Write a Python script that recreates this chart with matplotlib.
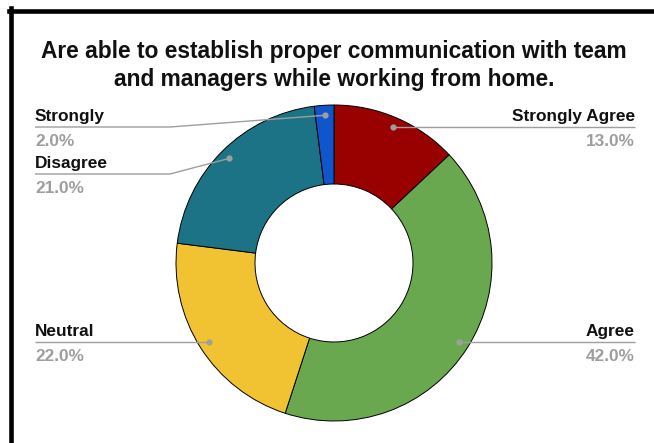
import numpy as np
import matplotlib.pyplot as plt
from matplotlib.lines import Line2D

plt.rcParams['font.family'] = ['Liberation Sans', 'DejaVu Sans']

title = "Are able to establish proper communication with team\nand managers while working from home."
labels = ["Strongly Agree", "Agree", "Neutral", "Disagree", "Strongly"]
shares = [13.0, 42.0, 22.0, 21.0, 2.0]
colors = ["#990000", "#6aa84f", "#f1c232", "#1c7385", "#1155cc"]

W, H = 654, 443
cx, cy = 334, H - 263
r_out, r_in = 158, 79
r_dot = 148

# leader line: (side, y of the horizontal run in pixels from top, elbow x)
leaders = [("right", None, None), ("right", None, None), ("left", None, None),
           ("left", 174, 170), ("left", 127, 170)]

fig = plt.figure(figsize=(W / 100, H / 100), dpi=100)
ax = fig.add_axes([0, 0, 1, 1])
ax.axis('off')

wedges, _ = ax.pie(shares, colors=colors, startangle=90, counterclock=False,
                   center=(cx, cy), radius=r_out,
                   wedgeprops=dict(width=r_out - r_in, edgecolor='black', linewidth=0.7))
ax.set_xlim(0, W)
ax.set_ylim(0, H)
ax.set_aspect('equal')

grey = "#9e9e9e"
for w, lab, val, (side, ly, ex) in zip(wedges, labels, shares, leaders):
    mid = np.deg2rad((w.theta1 + w.theta2) / 2)
    dx, dy = cx + r_dot * np.cos(mid), cy + r_dot * np.sin(mid)
    y_line = dy if ly is None else H - ly
    x_end = 635 if side == "right" else 35
    if ex is None:
        xs, ys = [dx, x_end], [dy, dy]
    else:
        xs, ys = [dx, ex, x_end], [dy, y_line, y_line]
    ax.plot(xs, ys, color=grey, lw=1.0, solid_capstyle='butt', zorder=3)
    ax.plot([dx], [dy], 'o', color=grey, ms=4.5, mec='none', zorder=4)
    ha = 'right' if side == "right" else 'left'
    ax.text(x_end, y_line + 6, lab, ha=ha, va='baseline', fontsize=12.4,
            fontweight='bold', color='#111111')
    ax.text(x_end, y_line - 19, f"{val:.1f}%", ha=ha, va='baseline', fontsize=12.4,
            fontweight='bold', color=grey)

fig.text(cx / W, 1 - 65.5 / H, title, ha='center', va='center', fontsize=16.4,
         fontweight='bold', linespacing=1.25, color='#111111')

# frame around the chart (left and top edges)
fig.add_artist(Line2D([11 / W, 11 / W], [0, 1 - 8 / H], color='black', lw=3.3,
                      transform=fig.transFigure))
fig.add_artist(Line2D([9 / W, 1], [1 - 10.5 / H, 1 - 10.5 / H], color='black', lw=3.3,
                      transform=fig.transFigure))

fig.savefig("out.png", dpi=100)
